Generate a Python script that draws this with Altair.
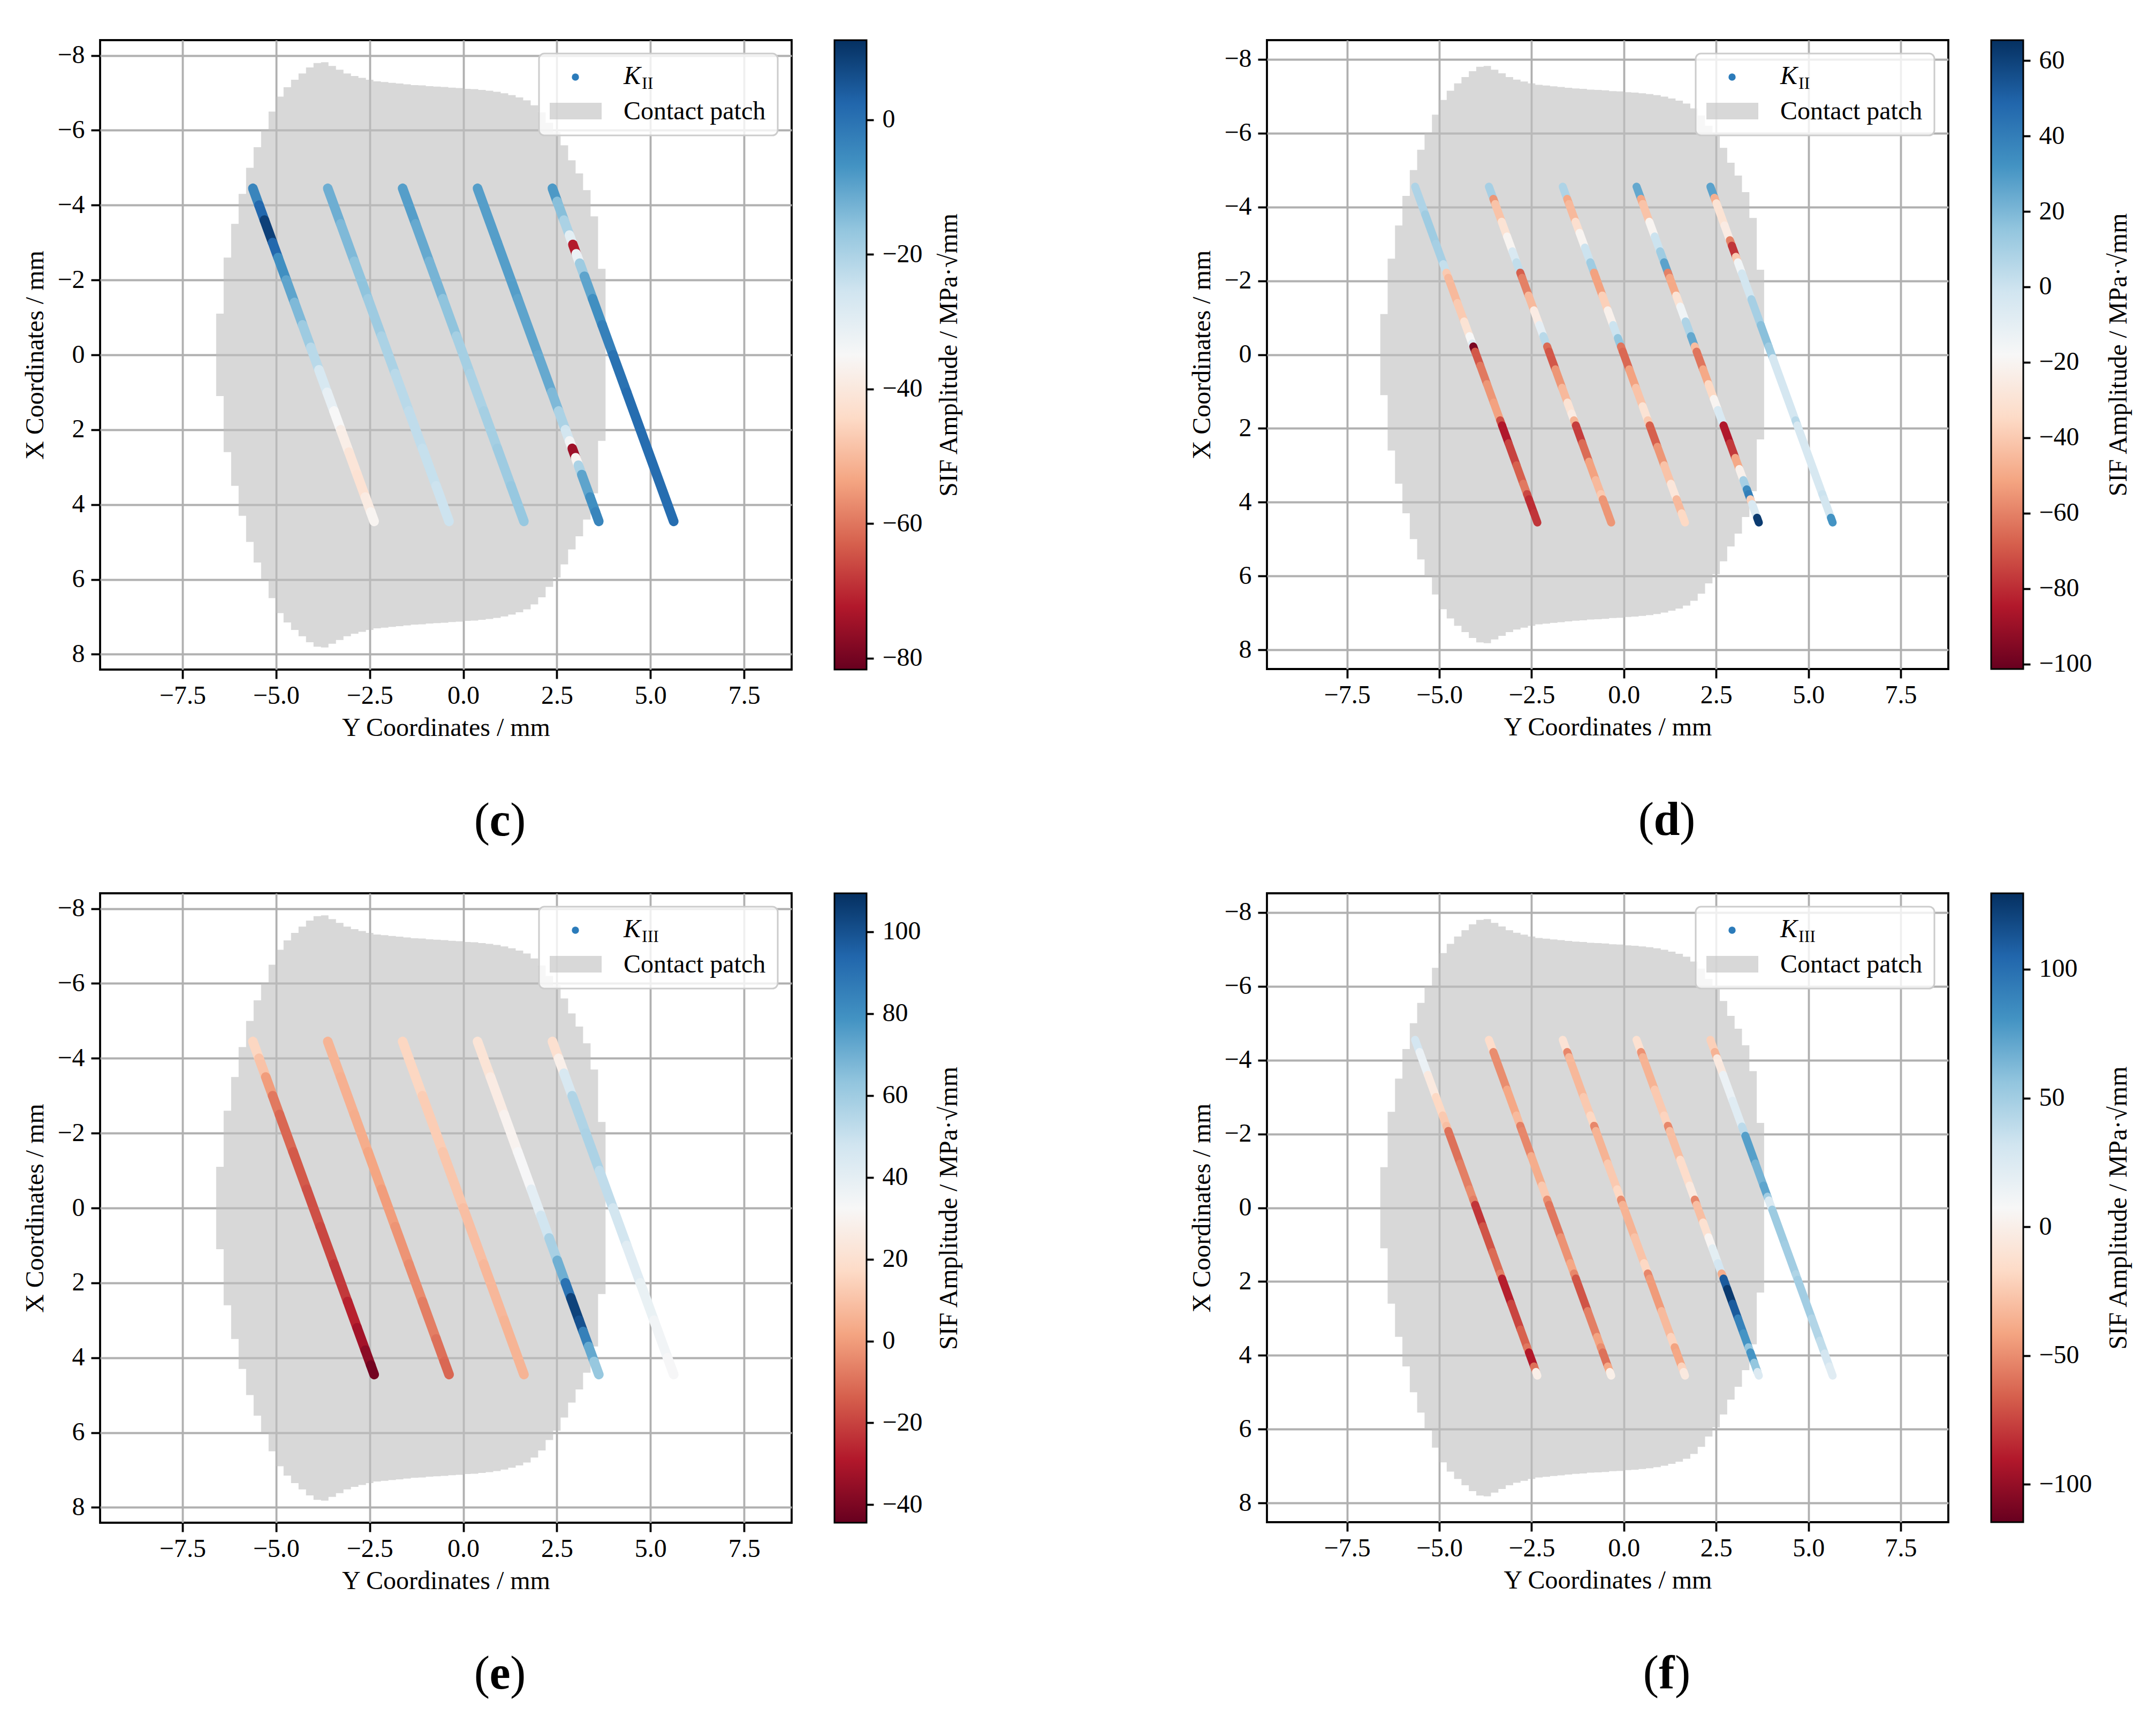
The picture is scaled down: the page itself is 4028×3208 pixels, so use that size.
import altair as alt
import pandas as pd

FONT = "Liberation Serif"
TAN20 = 0.364  # cracks are inclined 20 degrees to the X axis

X_TICKS = [-7.5, -5.0, -2.5, 0.0, 2.5, 5.0, 7.5]
Y_TICKS = [-8, -6, -4, -2, 0, 2, 4, 6, 8]

# matplotlib RdBu, low -> high
RDBU = ["#67001f", "#b2182b", "#d6604d", "#f4a582", "#fddbc7", "#f7f7f7",
        "#d1e5f0", "#92c5de", "#4393c3", "#2166ac", "#053061"]

# contact patch: left edge of each 0.2 mm column (Y) and its half extent in X
PATCH_Y = [-6.6, -6.4, -6.2, -6.0, -5.8, -5.6, -5.4, -5.2, -5.0, -4.8, -4.6, -4.4,
           -4.2, -4.0, -3.8, -3.6, -3.4, -3.2, -3.0, -2.8, -2.6, -2.4, -2.2, -2.0,
           -1.8, -1.6, -1.4, -1.2, -1.0, -0.8, -0.6, -0.4, -0.2, 0.0, 0.2, 0.4,
           0.6, 0.8, 1.0, 1.2, 1.4, 1.6, 1.8, 2.0, 2.2, 2.4, 2.6, 2.8, 3.0, 3.2,
           3.4, 3.6, 3.8]
PATCH_HALF = [1.1, 2.6, 3.5, 4.3, 5.0, 5.55, 6.0, 6.5, 6.9, 7.15, 7.35, 7.52,
              7.68, 7.8, 7.82, 7.72, 7.62, 7.52, 7.45, 7.4, 7.35, 7.31, 7.29, 7.27,
              7.25, 7.23, 7.21, 7.2, 7.18, 7.17, 7.16, 7.14, 7.13, 7.11, 7.1, 7.08,
              7.06, 7.03, 6.99, 6.94, 6.88, 6.8, 6.67, 6.48, 6.2, 5.95, 5.6, 5.2,
              4.85, 4.4, 3.7, 2.3, 2.3]

# crack centres (Y at X = 0)
CRACK_C = [-4.0, -2.0, 0.0, 2.0, 4.0]

# SIF amplitude along each crack: (X where the run starts, value)
RUNS_C = [
    [(-4.45, -4), (-4.0, 2), (-3.6, 9), (-3.0, 2), (-2.6, -6), (-2.0, -10), (-1.4, -14),
     (-0.8, -18), (-0.2, -22), (0.4, -27), (1.0, -31), (1.5, -35), (2.0, -38), (2.6, -41),
     (3.2, -42), (3.8, -39), (4.2, -36)],
    [(-4.45, -12), (-3.5, -14), (-2.5, -16), (-1.5, -18), (-0.5, -20), (0.5, -22),
     (1.5, -23), (2.5, -24), (3.5, -25)],
    [(-4.45, -9), (-3.5, -11), (-2.5, -13), (-1.5, -16), (-0.5, -19), (0.5, -20),
     (1.5, -19), (2.5, -18), (3.5, -17)],
    [(-4.45, -9), (-3.0, -9), (-1.5, -10), (0.0, -11), (1.0, -14), (1.5, -20), (2.0, -26),
     (2.3, -34), (2.5, -75), (2.75, -36), (2.95, -20), (3.2, -10), (3.8, -6), (4.2, -4)],
    [(-4.45, -8), (-4.1, -15), (-3.6, -20), (-3.2, -30), (-2.95, -72), (-2.7, -32),
     (-2.45, -18), (-2.1, -10), (-1.5, -6), (-0.8, -3), (0.0, 0), (1.0, 1)],
]
RUNS_D = [
    [(-4.55, 8), (-3.8, 12), (-3.0, 10), (-2.45, 2), (-2.22, -40), (-2.08, -45), (-1.4, -40),
     (-0.9, -30), (-0.5, -18), (-0.3, -8), (-0.22, -97), (-0.08, -70), (0.3, -62), (0.8, -55),
     (1.3, -52), (1.78, -72), (1.92, -85), (2.4, -75), (3.0, -68), (3.5, -62), (3.78, -74),
     (3.92, -80), (4.3, -78)],
    [(-4.55, 10), (-4.22, -55), (-4.08, -42), (-3.6, -30), (-3.2, -20), (-2.8, -5), (-2.5, 3),
     (-2.22, -68), (-2.08, -60), (-1.6, -45), (-1.2, -25), (-0.8, -10), (-0.5, 5), (-0.22, -65),
     (-0.08, -70), (0.4, -55), (0.9, -45), (1.3, -30), (1.6, -25), (1.78, -47), (1.92, -76),
     (2.4, -65), (2.9, -52), (3.4, -45), (3.78, -40), (3.92, -55), (4.3, -55)],
    [(-4.55, 8), (-4.22, -50), (-4.08, -45), (-3.6, -32), (-3.3, -20), (-2.9, 0), (-2.5, 12),
     (-2.22, -52), (-2.08, -52), (-1.6, -38), (-1.2, -22), (-0.8, 0), (-0.45, 15), (-0.22, -63),
     (-0.08, -66), (0.4, -52), (0.9, -42), (1.4, -30), (1.78, -40), (1.92, -68), (2.5, -55),
     (3.0, -42), (3.5, -28), (3.78, -28), (3.92, -45), (4.3, -35)],
    [(-4.55, 25), (-4.22, -50), (-4.08, -42), (-3.6, -20), (-3.2, 0), (-2.8, 12), (-2.5, 27),
     (-2.22, -60), (-2.08, -50), (-1.6, -30), (-1.3, -15), (-0.9, 8), (-0.5, 25), (-0.22, -44),
     (-0.08, -63), (0.4, -50), (0.8, -35), (1.2, -20), (1.5, -5), (1.78, -5), (1.92, -85),
     (2.4, -77), (2.8, -50), (3.1, -22), (3.4, 10), (3.65, 35), (3.78, 40), (3.92, -38),
     (4.05, -5), (4.42, 62)],
    [(-4.55, 27), (-4.25, -48), (-4.1, -30), (-3.5, -25), (-3.1, -60), (-2.95, -78),
     (-2.65, -40), (-2.5, -15), (-2.2, -2), (-1.5, 10), (-0.8, 17), (-0.22, 12), (0.1, -3),
     (1.78, 5), (1.92, -4), (3.78, 0), (3.92, -2), (4.42, 32)],
]
RUNS_E = [
    [(-4.45, 16), (-4.0, 10), (-3.5, 0), (-3.0, -8), (-2.5, -12), (-1.5, -15), (-0.5, -17),
     (0.5, -19), (1.5, -22), (2.5, -27), (3.2, -32), (3.8, -37), (4.2, -42)],
    [(-4.45, 6), (-3.5, 5), (-2.5, 4), (-1.5, 2), (-0.5, 0), (0.5, -2), (1.5, -4), (2.5, -7),
     (3.5, -10), (4.1, -12)],
    [(-4.45, 16), (-3.0, 13), (-1.5, 11), (0.0, 9), (1.5, 7), (3.0, 6)],
    [(-4.45, 22), (-3.5, 26), (-2.5, 30), (-1.5, 33), (-0.5, 40), (0.2, 48), (0.8, 58),
     (1.4, 70), (2.0, 90), (2.4, 104), (3.0, 100), (3.3, 85), (3.7, 72), (4.1, 62)],
    [(-4.45, 20), (-4.0, 28), (-3.6, 45), (-3.0, 56), (-2.0, 57), (-1.0, 52), (0.0, 47),
     (1.0, 42), (2.0, 38), (3.0, 35), (4.0, 33)],
]
RUNS_F = [
    [(-4.55, 30), (-4.22, 15), (-3.6, -5), (-3.0, -18), (-2.5, -25), (-2.22, -30), (-2.08, -60),
     (-1.2, -55), (-0.5, -50), (-0.22, -55), (-0.08, -80), (0.5, -70), (1.2, -62), (1.78, -55),
     (1.92, -88), (2.6, -75), (3.3, -65), (3.78, -58), (3.92, -90), (4.3, -60), (4.45, 0)],
    [(-4.55, -15), (-4.22, -50), (-4.08, -50), (-3.2, -40), (-2.5, -32), (-2.22, -55),
     (-2.08, -52), (-1.4, -38), (-0.6, -25), (-0.22, -50), (-0.08, -58), (0.8, -48), (1.5, -40),
     (1.78, -52), (1.92, -70), (2.8, -55), (3.5, -42), (3.78, -50), (3.92, -60), (4.3, -40),
     (4.45, 0)],
    [(-4.55, -10), (-4.22, -52), (-4.08, -33), (-3.0, -25), (-2.5, -18), (-2.22, -52),
     (-2.08, -35), (-1.2, -25), (-0.5, -18), (-0.22, -50), (-0.08, -35), (0.8, -28), (1.5, -18),
     (1.78, -52), (1.92, -45), (2.8, -32), (3.5, -20), (3.78, -42), (3.92, -40), (4.3, -20),
     (4.45, -5)],
    [(-4.55, -12), (-4.22, -48), (-4.08, -35), (-3.2, -25), (-2.5, -20), (-2.22, -52),
     (-2.08, -30), (-1.3, -15), (-0.6, -5), (-0.22, -52), (-0.08, -30), (0.4, -12), (0.8, 5),
     (1.1, 20), (1.5, 30), (1.78, -38), (1.92, 110), (2.2, 125), (2.6, 110), (3.0, 90),
     (3.4, 80), (3.78, 56), (3.92, 80), (4.2, 55), (4.45, 25)],
    [(-4.55, -22), (-4.22, -35), (-4.05, -5), (-3.6, 15), (-2.9, 22), (-2.2, 40), (-1.95, 75),
     (-1.2, 65), (-0.6, 72), (-0.3, 50), (-0.2, 25), (0.05, 52), (1.0, 50), (1.8, 45),
     (1.95, 50), (3.0, 44), (3.6, 38), (3.95, 30), (4.3, 22)],
]

PANELS = {
    "c": dict(mode="II", w=1292, h=1176, xdom=[-9.70, 8.77], ydom=[-8.41, 8.41],
              cdom=[-81.7, 11.85], cticks=[0, -20, -40, -60, -80], runs=RUNS_C, end=4.45,
              lw=18),
    "d": dict(mode="II", w=1273, h=1175, xdom=[-9.67, 8.79], ydom=[-8.52, 8.52],
              cdom=[-101.3, 65.4], cticks=[60, 40, 20, 0, -20, -40, -60, -80, -100],
              runs=RUNS_D, end=4.55, lw=15),
    "e": dict(mode="III", w=1292, h=1176, xdom=[-9.70, 8.77], ydom=[-8.41, 8.41],
              cdom=[-44.4, 109.4], cticks=[100, 80, 60, 40, 20, 0, -20, -40], runs=RUNS_E,
              end=4.45, lw=18),
    "f": dict(mode="III", w=1273, h=1175, xdom=[-9.67, 8.79], ydom=[-8.52, 8.52],
              cdom=[-114.7, 129.5], cticks=[100, 50, 0, -50, -100], runs=RUNS_F, end=4.55,
              lw=15),
}

patch_df = pd.DataFrame({"ycol": PATCH_Y,
                         "lo": [-h for h in PATCH_HALF],
                         "hi": PATCH_HALF})


def crack_table(runs, end):
    rows = []
    for c, run in zip(CRACK_C, runs):
        for i, (x0, v) in enumerate(run):
            x1 = run[i + 1][0] if i + 1 < len(run) else end
            rows.append({"ya": c + TAN20 * x0, "xa": x0,
                         "yb": c + TAN20 * x1, "xb": x1, "sif": v})
    return pd.DataFrame(rows)


def panel(letter):
    p = PANELS[letter]
    W, H = p["w"], p["h"]
    vmin, vmax = p["cdom"]
    one = pd.DataFrame({"k": [0]})

    xsc = alt.Scale(domain=p["xdom"], nice=False, zero=False)
    ysc = alt.Scale(domain=p["ydom"], nice=False, zero=False, reverse=True)
    xax = alt.Axis(values=X_TICKS, format=".1f", title="Y Coordinates / mm",
                   labelPadding=8, titlePadding=12)
    yax = alt.Axis(values=Y_TICKS, format="d", title="X Coordinates / mm",
                   labelPadding=12, titlePadding=16)

    patch = alt.Chart(patch_df).mark_area(
        interpolate="step-after", orient="vertical", color="#bfbfbf", opacity=0.61
    ).encode(
        x=alt.X("ycol:Q", scale=xsc, axis=xax),
        y=alt.Y("lo:Q", scale=ysc, axis=yax),
        y2="hi:Q",
    )

    stops = [vmin + (vmax - vmin) * i / 10 for i in range(11)]
    cracks = alt.Chart(crack_table(p["runs"], p["end"])).mark_rule(
        strokeWidth=p["lw"], strokeCap="round"
    ).encode(
        x=alt.X("ya:Q", scale=xsc, axis=xax),
        y=alt.Y("xa:Q", scale=ysc, axis=yax),
        x2="yb:Q",
        y2="xb:Q",
        color=alt.Color("sif:Q", scale=alt.Scale(domain=stops, range=RDBU, interpolate="rgb"),
                        legend=None),
    )

    # legend box in the top right corner
    bx, by = W - 472, 25
    box = alt.Chart(one).mark_rect(
        fill="white", fillOpacity=0.8, stroke="#cccccc", strokeWidth=3, cornerRadius=10
    ).encode(x=alt.value(bx), x2=alt.value(bx + 446), y=alt.value(by), y2=alt.value(by + 153))
    dot = alt.Chart(one).mark_circle(size=180, color="#2b7bba", opacity=1).encode(
        x=alt.value(bx + 68), y=alt.value(by + 44))
    swatch = alt.Chart(one).mark_rect(fill="#bfbfbf", opacity=0.61).encode(
        x=alt.value(bx + 20), x2=alt.value(bx + 117), y=alt.value(by + 92), y2=alt.value(by + 123))
    k_txt = alt.Chart(one).mark_text(
        text="K", font=FONT, fontSize=48, fontStyle="italic", align="left",
        baseline="alphabetic", color="black"
    ).encode(x=alt.value(bx + 158), y=alt.value(by + 57))
    k_sub = alt.Chart(one).mark_text(
        text=p["mode"], font=FONT, fontSize=32, align="left", baseline="alphabetic", color="black"
    ).encode(x=alt.value(bx + 192), y=alt.value(by + 66))
    contact = alt.Chart(one).mark_text(
        text="Contact patch", font=FONT, fontSize=48, align="left", baseline="alphabetic",
        color="black"
    ).encode(x=alt.value(bx + 158), y=alt.value(by + 123))

    # panel label "(c)" with a bold letter
    half = {"c": 19, "d": 24, "e": 19, "f": 15}[letter]
    lx, ly = 747, H + 284
    lab_l = alt.Chart(one).mark_text(text="(", font=FONT, fontSize=88, align="right",
                                     baseline="middle", color="black").encode(
        x=alt.value(lx - half), y=alt.value(ly))
    lab_c = alt.Chart(one).mark_text(text=letter, font=FONT, fontSize=88, fontWeight="bold",
                                     align="center", baseline="middle", color="black").encode(
        x=alt.value(lx), y=alt.value(ly))
    lab_r = alt.Chart(one).mark_text(text=")", font=FONT, fontSize=88, align="left",
                                     baseline="middle", color="black").encode(
        x=alt.value(lx + half), y=alt.value(ly))

    inner = alt.layer(patch, cracks, box, dot, swatch, k_txt, k_sub, contact,
                      lab_l, lab_c, lab_r)

    # colour bar, drawn on its own y scale
    grad = alt.LinearGradient(
        gradient="linear", x1=0, x2=0, y1=1, y2=0,
        stops=[alt.GradientStop(offset=i / 10, color=c) for i, c in enumerate(RDBU)],
    )
    cbar = alt.Chart(pd.DataFrame({"lo": [vmin], "hi": [vmax]})).mark_rect(
        fill=grad, stroke="black", strokeWidth=3
    ).encode(
        x=alt.value(W + 80),
        x2=alt.value(W + 140),
        y=alt.Y("lo:Q", scale=alt.Scale(domain=[vmin, vmax], nice=False, zero=False),
                axis=alt.Axis(orient="right", offset=140, values=p["cticks"], format="d",
                              grid=False, tickSize=13, labelPadding=16,
                              title="SIF Amplitude / MPa·√mm", titleAngle=270,
                              titleBaseline="top", titlePadding=26)),
        y2="hi:Q",
    )

    return alt.layer(inner, cbar).resolve_scale(y="independent").properties(width=W, height=H)


chart = alt.concat(
    panel("c"), panel("d"), panel("e"), panel("f"),
    columns=2, spacing={"row": 418, "column": 888}, bounds="flush",
).resolve_scale(
    color="independent"
).properties(
    padding={"left": 33, "top": 63, "right": 20, "bottom": 20}
).configure(
    font=FONT, background="white"
).configure_view(
    stroke="black", strokeWidth=3.8
).configure_axis(
    labelFont=FONT, titleFont=FONT, labelFontSize=48, titleFontSize=48,
    labelColor="black", titleColor="black", titleFontWeight="normal",
    domain=False, tickColor="black", tickWidth=3.8, tickSize=17,
    gridColor="#b0b0b0", gridWidth=3.8,
)

chart.save("out.html", embed_options={"renderer": "svg", "actions": False})
